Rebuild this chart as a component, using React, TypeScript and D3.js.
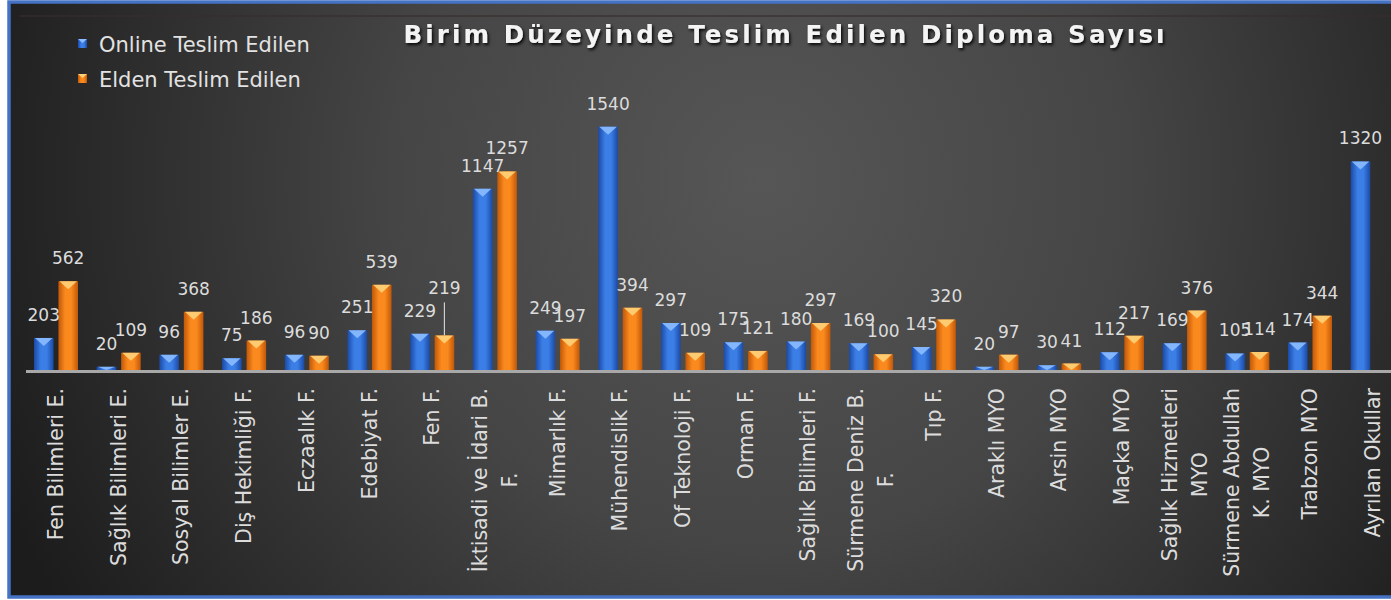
import React, { useEffect, useRef } from 'react';
import * as d3 from 'd3';

const categories = [
  "Fen Bilimleri E.", "Sağlık Bilimleri E.", "Sosyal Bilimler E.", "Diş Hekimliği F.",
  "Eczaalık F.", "Edebiyat F.", "Fen F.", "İktisadi ve İdari B.\nF.", "Mimarlık F.",
  "Mühendislik F.", "Of Teknoloji F.", "Orman F.", "Sağlık Bilimleri F.",
  "Sürmene Deniz B.\nF.", "Tıp F.", "Araklı MYO", "Arsin MYO", "Maçka MYO",
  "Sağlık Hizmetleri\nMYO", "Sürmene Abdullah\nK. MYO", "Trabzon MYO", "Ayrılan Okullar"
];
const onlineValues: (number | null)[] = [203, 20, 96, 75, 96, 251, 229, 1147, 249, 1540, 297, 175, 180, 169, 145, 20, 30, 112, 169, 105, 174, 1320];
const eldenValues: (number | null)[] = [562, 109, 368, 186, 90, 539, 219, 1257, 197, 394, 109, 121, 297, 100, 320, 97, 41, 217, 376, 114, 344, null];
const seriesNames = ["Online Teslim Edilen", "Elden Teslim Edilen"];
const chartTitle = "Birim Düzeyinde Teslim Edilen Diploma Sayısı";

// label nudges (style only): key = category|seriesIndex -> vertical offset in px
const labelNudge: Record<string, number> = { "Fen F.|1": -24 };

const W = 1391;
const H = 600;
const BASE_Y = 370;
const Y_MAX = 1800;
const FONT = "'DejaVu Sans', 'Liberation Sans', sans-serif";

const seriesColors = [
  { id: 'gBlue', edge: '#1b4aa6', mid: '#3b7ee6', bevel: '#8cbcff' },
  { id: 'gOrange', edge: '#c25808', mid: '#fb8a1e', bevel: '#ffd17a' },
];

export default function App() {
  const ref = useRef<SVGSVGElement | null>(null);

  useEffect(() => {
    const svg = d3.select(ref.current);
    svg.selectAll('*').remove();

    const defs = svg.append('defs');
    const bg = defs.append('radialGradient').attr('id', 'bgGrad')
      .attr('gradientUnits', 'userSpaceOnUse')
      .attr('cx', 760).attr('cy', 180).attr('r', 820);
    bg.append('stop').attr('offset', 0).attr('stop-color', '#565656');
    bg.append('stop').attr('offset', 0.45).attr('stop-color', '#454545');
    bg.append('stop').attr('offset', 1).attr('stop-color', '#1c1c1c');

    seriesColors.forEach(c => {
      const g = defs.append('linearGradient').attr('id', c.id)
        .attr('x1', 0).attr('x2', 1).attr('y1', 0).attr('y2', 0);
      g.append('stop').attr('offset', 0).attr('stop-color', c.edge);
      g.append('stop').attr('offset', 0.35).attr('stop-color', c.mid);
      g.append('stop').attr('offset', 0.65).attr('stop-color', c.mid);
      g.append('stop').attr('offset', 1).attr('stop-color', c.edge);
    });
    const sh = defs.append('filter').attr('id', 'titleShadow')
      .attr('x', -0.1).attr('y', -0.5).attr('width', 1.2).attr('height', 2);
    sh.append('feDropShadow').attr('dx', 1.5).attr('dy', 2).attr('stdDeviation', 1.5)
      .attr('flood-color', '#000').attr('flood-opacity', 0.9);

    // background & border
    svg.append('rect').attr('x', 9).attr('y', 2).attr('width', W + 10).attr('height', 595)
      .attr('fill', 'url(#bgGrad)').attr('stroke', '#4472c4').attr('stroke-width', 3.5);
    svg.append('line').attr('x1', 20).attr('x2', W).attr('y1', 16).attr('y2', 16)
      .attr('stroke', '#3a2c2c').attr('stroke-width', 1.5).attr('opacity', 0.8);

    const step = 62.7;
    const xStart = 56 - step / 2;
    const x0 = d3.scaleBand<string>().domain(categories)
      .range([xStart, xStart + step * categories.length])
      .paddingInner(0.298).paddingOuter(0.149);
    const x1 = d3.scaleBand<number>().domain([0, 1]).range([0, x0.bandwidth()]).paddingInner(0.2);
    const y = d3.scaleLinear().domain([0, Y_MAX]).range([BASE_Y, BASE_Y - Y_MAX * 0.158]);

    const seriesValues = [onlineValues, eldenValues];

    // axis line
    svg.append('line').attr('x1', 26).attr('x2', W).attr('y1', BASE_Y + 1.5).attr('y2', BASE_Y + 1.5)
      .attr('stroke', '#a8a8a8').attr('stroke-width', 3);

    const barsG = svg.append('g');
    const labelsG = svg.append('g');
    categories.forEach((cat, i) => {
      seriesValues.forEach((vals, s) => {
        const v = vals[i];
        if (v == null) return;
        const bx = (x0(cat) as number) + (x1(s) as number);
        const bw = x1.bandwidth();
        const top = y(v);
        const h = BASE_Y - top;
        const c = seriesColors[s];
        barsG.append('rect').attr('x', bx).attr('y', top).attr('width', bw).attr('height', h)
          .attr('fill', `url(#${c.id})`);
        const th = Math.min(8, h);
        barsG.append('path')
          .attr('d', `M${bx + 1},${top} L${bx + bw - 1},${top} L${bx + bw / 2},${top + th} Z`)
          .attr('fill', c.bevel).attr('opacity', 0.9);
        const nudge = labelNudge[`${cat}|${s}`] || 0;
        const ly = top - 17 + nudge;
        labelsG.append('text').attr('x', bx + bw / 2).attr('y', ly)
          .attr('text-anchor', 'middle').attr('font-family', FONT).attr('font-size', 17)
          .attr('fill', '#dcdcdc').text(String(v));
        if (nudge !== 0) {
          labelsG.append('line').attr('x1', bx + bw / 2).attr('x2', bx + bw / 2)
            .attr('y1', ly + 8).attr('y2', top).attr('stroke', '#cfcfcf').attr('stroke-width', 1.2);
        }
      });
    });

    // x labels
    const xlG = svg.append('g');
    const LINE_GAP = 30;
    const LABEL_TOP = 388;
    categories.forEach(cat => {
      const lines = cat.split('\n');
      const cx = (x0(cat) as number) + x0.bandwidth() / 2;
      const texts = lines.map(l => xlG.append('text').attr('font-family', FONT).attr('font-size', 20.5)
        .attr('fill', '#dcdcdc').attr('text-anchor', 'middle').attr('dominant-baseline', 'central').text(l));
      const maxLen = d3.max(texts, t => (t.node() as SVGTextElement).getComputedTextLength()) || 0;
      texts.forEach((t, k) => {
        const lx = cx + (k - (lines.length - 1) / 2) * LINE_GAP;
        const ly = LABEL_TOP + maxLen / 2;
        t.attr('transform', `translate(${lx},${ly}) rotate(-90)`);
      });
    });

    // legend
    const legG = svg.append('g');
    seriesNames.forEach((name, s) => {
      const c = seriesColors[s];
      const ty = 52 + s * 35;
      legG.append('rect').attr('x', 78).attr('y', ty - 13).attr('width', 9).attr('height', 9)
        .attr('fill', `url(#${c.id})`);
      legG.append('path').attr('d', `M78,${ty - 13} L87,${ty - 13} L82.5,${ty - 9} Z`).attr('fill', c.bevel);
      legG.append('text').attr('x', 99).attr('y', ty).attr('font-family', FONT).attr('font-size', 21)
        .attr('fill', '#e2e2e2').text(name);
    });

    // title
    svg.append('text').attr('x', 784).attr('y', 43).attr('text-anchor', 'middle')
      .attr('font-family', FONT).attr('font-weight', 'bold').attr('font-size', 24.5)
      .attr('fill', '#f4f4f4').attr('textLength', 761).attr('lengthAdjust', 'spacing')
      .attr('filter', 'url(#titleShadow)').text(chartTitle);
  }, []);

  return (
    <svg ref={ref} width={W} height={H}
      style={{ position: 'absolute', left: 0, top: 0, display: 'block' }} />
  );
}
